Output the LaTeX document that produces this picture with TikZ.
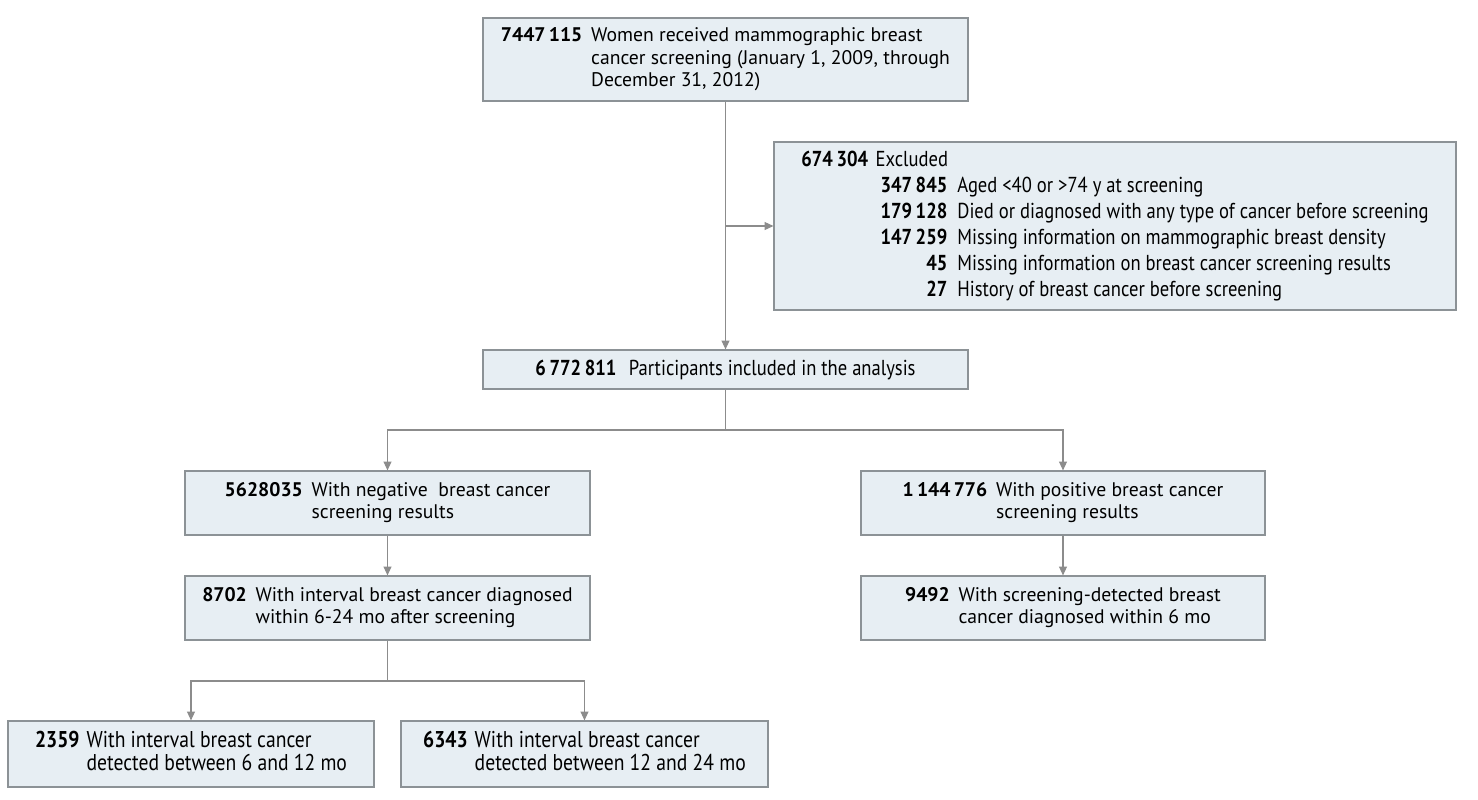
\documentclass[tikz,border=0pt]{standalone}
\usepackage{fontspec}
\setmainfont{PT Sans}
\newfontfamily\cnfont{PT Sans}[FakeStretch=0.86]
\usetikzlibrary{arrows.meta}
\definecolor{boxfill}{RGB}{231, 238, 243}
\definecolor{boxline}{RGB}{140, 146, 150}
\definecolor{flowline}{RGB}{140, 140, 140}
\newcommand{\exitem}[2]{\makebox[2.92cm][r]{\textbf{#1}}\hspace{0.2cm}#2}

\begin{document}
\begin{tikzpicture}[x=0.02cm, y=-0.02cm, every node/.style={font=\fontsize{11.2}{12.9}\selectfont},
    flowbox/.style={draw=boxline, fill=boxfill, line width=0.7pt, inner sep=0pt, align=left},
    narrowbox/.style={flowbox, font=\cnfont\fontsize{12.3}{14.8}\selectfont},
    lowbox/.style={flowbox, font=\cnfont\fontsize{13}{13.1}\selectfont},
    flow/.style={draw=flowline, line width=0.6pt},
    flowarrow/.style={flow, -{Triangle[length=5pt, width=4.5pt]}}]
    \useasboundingbox (0,0) rectangle (1478,799);

    % Screened women and exclusions
    \node[flowbox, minimum width=9.7cm, minimum height=1.66cm] (screened) at (725.5, 59.5) {%
        \begin{tabular}{@{}l@{\hspace{5pt}}l@{}}
        \textbf{7447\,115} & Women received mammographic breast\\
         & cancer screening (January 1, 2009, through\\
         & December 31, 2012)
        \end{tabular}};
    \node[narrowbox, minimum width=13.64cm, minimum height=3.36cm] (excluded) at (1115, 226) {%
        \begin{tabular}{@{}l@{}}
        \textbf{674\,304}\hspace{0.15cm}Excluded\\
        \exitem{347\,845}{Aged <40 or >74 y at screening}\\
        \exitem{179\,128}{Died or diagnosed with any type of cancer before screening}\\
        \exitem{147\,259}{Missing information on mammographic breast density}\\
        \exitem{45}{Missing information on breast cancer screening results}\\
        \exitem{27}{History of breast cancer before screening}
        \end{tabular}};
    \node[narrowbox, minimum width=9.7cm, minimum height=0.78cm] (included) at (725.5, 369.5) {%
        \textbf{6\,772\,811}\hspace{0.25cm}Participants included in the analysis};

    % Screening results
    \node[flowbox, minimum width=8.1cm, minimum height=1.28cm] (negative) at (387.5, 503) {%
        \begin{tabular}{@{}l@{\hspace{5pt}}l@{}}
        \textbf{5628035} & With negative\ \ breast cancer\\
         & screening results
        \end{tabular}};
    \node[flowbox, minimum width=8.08cm, minimum height=1.28cm] (positive) at (1063, 503) {%
        \begin{tabular}{@{}l@{\hspace{5pt}}l@{}}
        \textbf{1\,144\,776} & With positive breast cancer\\
         & screening results
        \end{tabular}};
    \node[flowbox, minimum width=8.1cm, minimum height=1.28cm] (interval) at (387.5, 608) {%
        \begin{tabular}{@{}l@{\hspace{5pt}}l@{}}
        \textbf{8702} & With interval breast cancer diagnosed\\
         & within 6-24 mo after screening
        \end{tabular}};
    \node[flowbox, minimum width=8.08cm, minimum height=1.28cm] (detected) at (1063, 608) {%
        \begin{tabular}{@{}l@{\hspace{5pt}}l@{}}
        \textbf{9492} & With screening-detected breast\\
         & cancer diagnosed within 6 mo
        \end{tabular}};

    % Interval cancers by time
    \node[lowbox, minimum width=7.32cm, minimum height=1.32cm] (early) at (191, 754) {%
        \begin{tabular}{@{}l@{\hspace{4pt}}l@{}}
        \textbf{2359} & With interval breast cancer\\
         & detected between 6 and 12 mo
        \end{tabular}};
    \node[lowbox, minimum width=7.34cm, minimum height=1.32cm] (late) at (584.5, 754) {%
        \begin{tabular}{@{}l@{\hspace{4pt}}l@{}}
        \textbf{6343} & With interval breast cancer\\
         & detected between 12 and 24 mo
        \end{tabular}};

    % Connectors
    \coordinate (exbranch) at (725.5, 226);
    \coordinate (splitresult) at (725.5, 430);
    \coordinate (splitinterval) at (387.5, 681);
    \draw[flowarrow] (screened.south) -- (included.north);
    \draw[flowarrow] (exbranch) -- (excluded.west);
    \draw[flow] (included.south) -- (splitresult);
    \draw[flowarrow] (splitresult) -| (negative.north);
    \draw[flowarrow] (splitresult) -| (positive.north);
    \draw[flowarrow] (negative.south) -- (interval.north);
    \draw[flowarrow] (positive.south) -- (detected.north);
    \draw[flow] (interval.south) -- (splitinterval);
    \draw[flowarrow] (splitinterval) -| (early.north);
    \draw[flowarrow] (splitinterval) -| (late.north);
\end{tikzpicture}
\end{document}
